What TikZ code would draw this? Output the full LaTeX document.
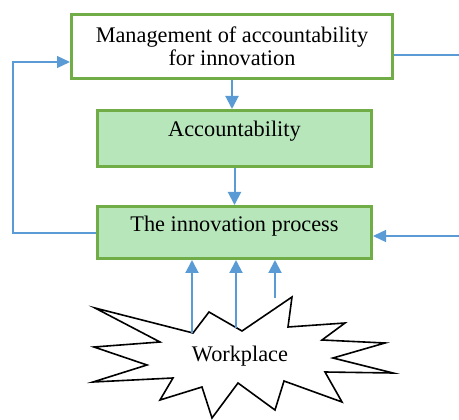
\documentclass[tikz,border=0pt]{standalone}
\usepackage{fontspec}
\setmainfont{Liberation Serif}
\usetikzlibrary{arrows.meta}
\definecolor{flowblue}{RGB}{91,155,213}
\definecolor{boxgreen}{RGB}{112,173,71}
\definecolor{boxfill}{RGB}{183,230,187}
\begin{document}
\begin{tikzpicture}[x=1pt,y=-1pt,
  every node/.style={font=\fontsize{22.3}{23}\selectfont},
  framebox/.style={draw=boxgreen, line width=3pt, align=center},
  stagebox/.style={framebox, fill=boxfill, minimum width=274pt, text height=15pt},
  flow/.style={draw=flowblue, line width=2pt, -{Triangle[length=13pt,width=13pt]}},
  thinflow/.style={draw=flowblue, line width=1.3pt, -{Triangle[length=13pt,width=12pt]}},
  thinline/.style={draw=flowblue, line width=1.3pt},
  burst/.style={draw=black, line width=1.6pt, fill=white, line join=miter}]
\useasboundingbox (0,0) rectangle (459,420);

% boxes
\node[framebox, fill=white, minimum width=321pt, minimum height=64pt] (top) at (232,46.5)
  {Management of accountability\\for innovation};
\node[stagebox, minimum height=56pt, text depth=18pt] (acc) at (234.5,138.5) {Accountability};
\node[stagebox, minimum height=52pt, text depth=17pt] (proc) at (234.5,232.5) {The innovation process};

% starburst
\draw[burst] (95,308) -- (193,333) -- (209,312) -- (242,331) -- (292,297) -- (288,327)
  -- (345,323) -- (322,340) -- (385,343) -- (333,358) -- (393,373) -- (325,372)
  -- (342,402) -- (284,381) -- (275,410) -- (238,383) -- (212,418) -- (202,387)
  -- (160,400) -- (173,378) -- (93,382) -- (147,365) -- (94,347) -- (160,342) -- cycle;
\node[anchor=base] (work) at (240,362) {Workplace};

% connector end points
\coordinate (w1) at (192,333);
\coordinate (w2) at (236,328);
\coordinate (w3) at (275,298);
\coordinate (loopin) at (13,233);
\coordinate (loopout) at (13,62);
\coordinate (rin) at (459,236);
\coordinate (rout) at (459,55);

% connectors
\draw[flow] (top.south) -- (top.south |- acc.north);
\draw[flow] (acc.south) -- (proc.north);
\draw[flow] (w1) -- (w1 |- proc.south);
\draw[flow] (w2) -- (w2 |- proc.south);
\draw[flow] (w3) -- (w3 |- proc.south);
\draw[thinflow] (proc.west |- loopin) -- (loopin) -- (loopout) -- (top.west |- loopout);
\draw[thinflow] (rin) -- (proc.east |- rin);
\draw[thinline] (top.east |- rout) -- (rout);
\end{tikzpicture}
\end{document}
